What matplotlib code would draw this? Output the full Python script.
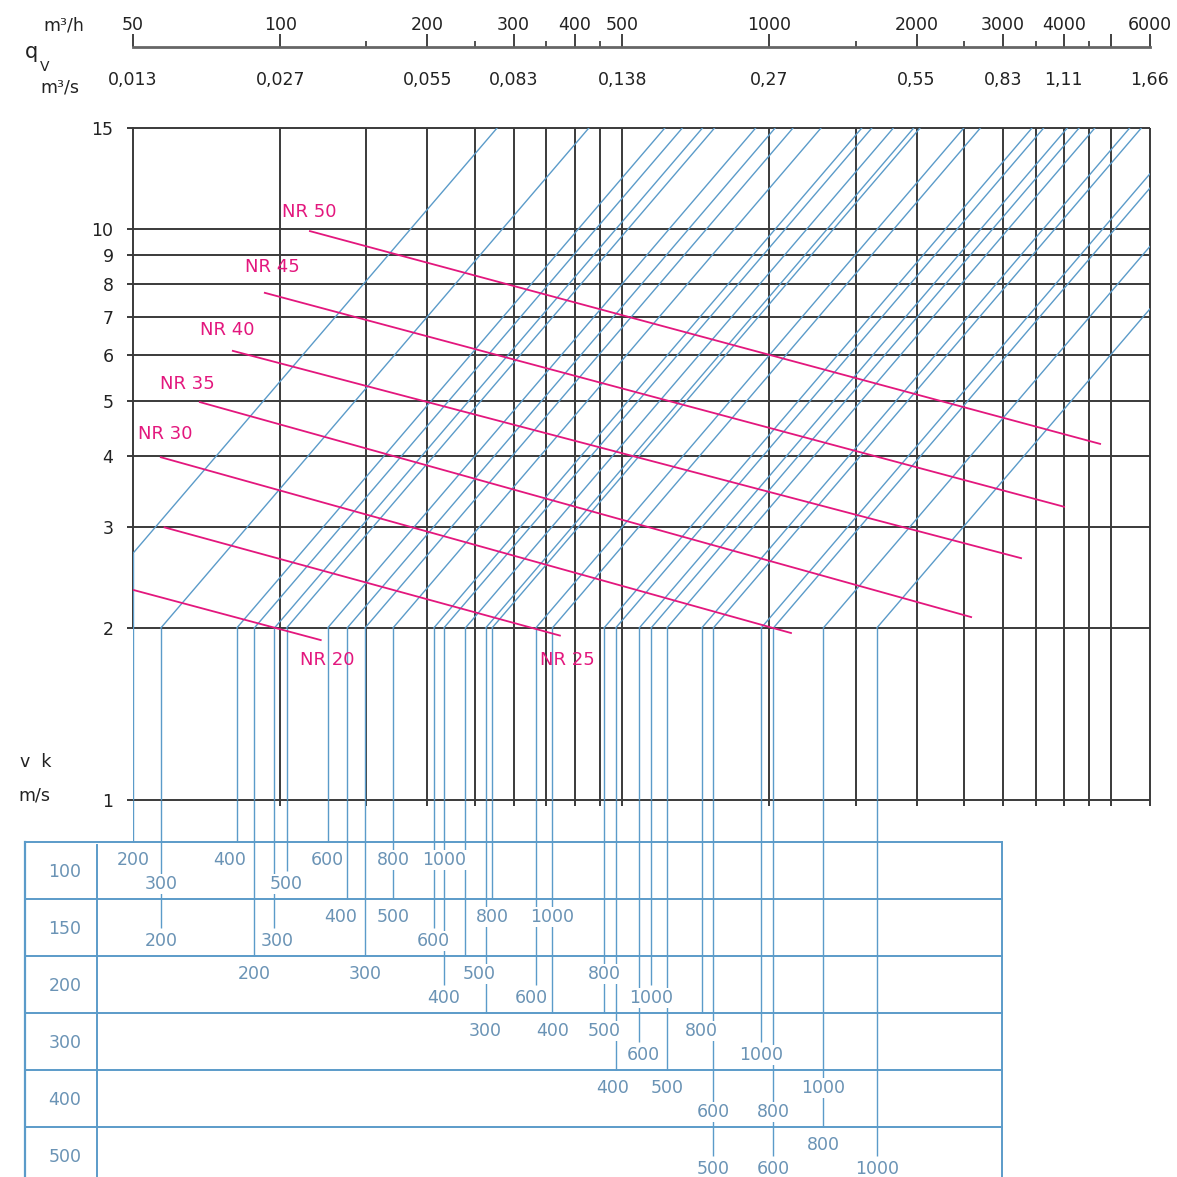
import matplotlib
matplotlib.use("Agg")
import matplotlib.pyplot as plt
import matplotlib.transforms as mtransforms
from matplotlib.ticker import FixedLocator, FixedFormatter, NullLocator

# ---- flow scale on top (m3/h and the same values in m3/s)
qv_major = [50, 100, 200, 300, 400, 500, 1000, 2000, 3000, 4000, 5000, 6000]
qv_major_labels = ["50", "100", "200", "300", "400", "500", "1000", "2000", "3000", "4000", "", "6000"]
qv_minor = [150, 250, 350, 450, 1500, 2500, 3500, 4500]
qs_at = [50, 100, 200, 300, 500, 1000, 2000, 3000, 4000, 6000]
qs_labels = ["0,013", "0,027", "0,055", "0,083", "0,138", "0,27", "0,55", "0,83", "1,11", "1,66"]

# ---- grid of the main chart
grid_q = [100, 150, 200, 250, 300, 350, 400, 450, 500, 1000, 1500, 2000,
          2500, 3000, 3500, 4000, 4500, 5000, 6000]
v_ticks = [1, 2, 3, 4, 5, 6, 7, 8, 9, 10, 15]

# ---- NR curves, start / end points (q in m3/h, v in m/s)
nr_names = ["NR 20", "NR 25", "NR 30", "NR 35", "NR 40", "NR 45", "NR 50"]
nr_q0 = [50.2, 58, 57, 68.5, 80, 93, 115]
nr_v0 = [2.33, 3.0, 3.98, 4.97, 6.11, 7.72, 9.9]
nr_q1 = [121, 373, 1107, 2585, 3270, 4004, 4744]
nr_v1 = [1.905, 1.94, 1.96, 2.09, 2.65, 3.26, 4.2]
nr_label_q = [110, 340, 51.2, 56.8, 68.5, 84.7, 101]
nr_label_v = [1.76, 1.76, 4.37, 5.34, 6.65, 8.56, 10.7]

# ---- table: size row, length, flow where the line meets v = 2 m/s, lower label level
sizes = [100, 150, 200, 300, 400, 500]
tbl_size = [100, 100, 100, 100, 100, 100, 100,
            150, 150, 150, 150, 150, 150, 150,
            200, 200, 200, 200, 200, 200, 200,
            300, 300, 300, 300, 300, 300,
            400, 400, 400, 400, 400,
            500, 500, 500, 500]
tbl_len = [200, 300, 400, 500, 600, 800, 1000,
           200, 300, 400, 500, 600, 800, 1000,
           200, 300, 400, 500, 600, 800, 1000,
           300, 400, 500, 600, 800, 1000,
           400, 500, 600, 800, 1000,
           500, 600, 800, 1000]
tbl_q = [37, 57, 81.5, 103, 125, 170, 216,
         57, 97.3, 137, 170, 206, 271, 360,
         88.5, 149, 216, 239, 333, 459, 573,
         263, 360, 459, 542, 727, 962,
         485, 617, 768, 1019, 1289,
         768, 1019, 1289, 1658]
tbl_low = [0, 1, 0, 1, 0, 0, 0,
           1, 1, 0, 0, 1, 0, 0,
           0, 0, 1, 0, 1, 0, 1,
           0, 0, 0, 1, 0, 1,
           0, 0, 1, 1, 0,
           1, 1, 0, 1]
# small sideways nudges of a few labels (points)
lbl_shift = {(100, 400): -5, (150, 400): -5, (150, 300): 2, (200, 500): 10,
             (200, 600): -3, (300, 600): 3, (400, 400): -2}

GRID = "#3a3a3a"
BLUE = "#5b9bc9"
TBLUE = "#6a93b5"
PINK = "#e3177d"
FS = 1177

plt.rcParams['font.family'] = ['DejaVu Sans']

fig = plt.figure(figsize=(FS / 100, FS / 100), dpi=100)


def fbox(x0, y0, x1, y1):
    return [x0 / FS, 1 - y1 / FS, (x1 - x0) / FS, (y1 - y0) / FS]


def fpt(x, y):
    return x / FS, 1 - y / FS


# ================= main chart
ax = fig.add_axes(fbox(133, 128, 1150, 800))
ax.set_xscale('log')
ax.set_yscale('log')
q_lo, q_hi = 50, 6000
v_lo, v_hi = 1, 15
ax.set_xlim(q_lo, q_hi)
ax.set_ylim(v_lo, v_hi)
ax.set_autoscale_on(False)
for s in ax.spines.values():
    s.set_visible(False)
ax.patch.set_visible(False)

for v in v_ticks:
    ax.plot([q_lo * 0.972, q_hi], [v, v], color=GRID, lw=1.4, clip_on=False,
            zorder=1, solid_capstyle='butt')
for q in grid_q:
    ax.plot([q, q], [v_lo * 0.976, v_hi], color=GRID, lw=1.4, clip_on=False,
            zorder=1, solid_capstyle='butt')
ax.plot([q_lo, q_lo], [2, v_hi], color=GRID, lw=1.4, zorder=1, clip_on=False)

duct_lines = sorted(set(tbl_q))
for q in duct_lines:
    # constant-area line: v proportional to q
    ax.plot([q, q * v_hi / 2.0], [2, v_hi], color=BLUE, lw=1.0, zorder=2)
    xq = max(q, q_lo)
    ax.plot([xq, xq], [2.0 * xq / q, v_lo], color=BLUE, lw=1.0, zorder=2,
            solid_capstyle='butt')

for i in range(len(nr_names)):
    ax.plot([nr_q0[i], nr_q1[i]], [nr_v0[i], nr_v1[i]], color=PINK, lw=1.3, zorder=3)
    ax.text(nr_label_q[i], nr_label_v[i], nr_names[i], color=PINK, fontsize=13,
            ha='left', va='center', zorder=5)

ax.xaxis.set_major_locator(NullLocator())
ax.xaxis.set_minor_locator(NullLocator())
ax.yaxis.set_major_locator(FixedLocator(v_ticks))
ax.yaxis.set_major_formatter(FixedFormatter([str(v) for v in v_ticks]))
ax.yaxis.set_minor_locator(NullLocator())
ax.tick_params(axis='y', length=0, pad=14, labelsize=12.5, labelcolor="#222222")

# ================= flow scale on top
axq = fig.add_axes(fbox(133, 33, 1150, 47))
axq.set_xscale('log')
axq.set_xlim(q_lo, q_hi)
axq.set_ylim(0, 1)
axq.patch.set_visible(False)
for k in ['top', 'left', 'right']:
    axq.spines[k].set_visible(False)
axq.spines['bottom'].set_linewidth(2.0)
axq.spines['bottom'].set_color("#666666")
axq.set_yticks([])
axq.xaxis.set_major_locator(FixedLocator(qv_major))
axq.xaxis.set_minor_locator(FixedLocator(qv_minor))
axq.tick_params(axis='x', which='major', direction='in', length=9.5, width=1.3,
                color="#333333", labelbottom=False)
axq.tick_params(axis='x', which='minor', direction='in', length=4.5, width=1.2,
                color="#333333", labelbottom=False)
tq = mtransforms.blended_transform_factory(axq.transData, fig.transFigure)
for q, lab in zip(qv_major, qv_major_labels):
    axq.text(q, 1 - 25 / FS, lab, transform=tq, ha='center', va='center',
             fontsize=12.5, color="#222222")
for q, lab in zip(qs_at, qs_labels):
    axq.text(q, 1 - 80 / FS, lab, transform=tq, ha='center', va='center',
             fontsize=12.5, color="#222222")

fig.text(*fpt(64, 25), "m³/h", ha='center', va='center', fontsize=12.5, color="#222222")
fig.text(*fpt(31, 52), "q", ha='center', va='center', fontsize=15, color="#222222")
fig.text(*fpt(45, 67), "V", ha='center', va='center', fontsize=10, color="#222222")
fig.text(*fpt(60, 87), "m³/s", ha='center', va='center', fontsize=12.5, color="#222222")
fig.text(*fpt(20, 762), "v  k", ha='left', va='center', fontsize=12.5, color="#222222")
fig.text(*fpt(18, 795), "m/s", ha='left', va='center', fontsize=12.5, color="#222222")

# ================= table below
gap_px, row_px = 42, 57
axt = fig.add_axes(fbox(133, 800, 1150, FS))
axt.set_xscale('log')
axt.set_xlim(q_lo, q_hi)
t_top = -gap_px / row_px
t_bot = (FS - 800 - gap_px) / row_px
axt.set_ylim(t_bot, t_top)
axt.set_autoscale_on(False)
axt.axis('off')

tb = mtransforms.blended_transform_factory(axt.transAxes, axt.transData)
xl, xi, xr = (25 - 133) / 1017, (97 - 133) / 1017, (1002 - 133) / 1017
for r in range(len(sizes)):
    axt.plot([xl, xr], [r, r], color=BLUE, lw=1.4, transform=tb, clip_on=False, zorder=1)
    axt.text((65 - 133) / 1017, r + 0.52, str(sizes[r]), transform=tb, ha='center',
             va='center', fontsize=12.5, color=TBLUE)
axt.plot([xl, xl], [0, t_bot], color=BLUE, lw=1.6, transform=tb, clip_on=False)
axt.plot([xi, xi], [0.06, t_bot], color=BLUE, lw=1.4, transform=tb, clip_on=False)
axt.plot([xr, xr], [0, t_bot], color=BLUE, lw=1.4, transform=tb, clip_on=False)

LOW_END, UP_Y, LOW_Y = 0.5, 0.31, 0.73
for q in duct_lines:
    ends = [sizes.index(s) + (LOW_END if lo else 0.0)
            for s, qq, lo in zip(tbl_size, tbl_q, tbl_low) if qq == q]
    xq = max(q, q_lo)
    axt.plot([xq, xq], [t_top, max(ends)], color=BLUE, lw=1.0, zorder=2,
             solid_capstyle='butt')

for s, L, q, lo in zip(tbl_size, tbl_len, tbl_q, tbl_low):
    xq = max(q, q_lo)
    y = sizes.index(s) + (LOW_Y if lo else UP_Y)
    tr = mtransforms.offset_copy(axt.transData, fig, x=lbl_shift.get((s, L), 0), y=0,
                                 units='points')
    axt.text(xq, y, str(L), transform=tr, ha='center', va='center', fontsize=12.5,
             color=TBLUE, zorder=4,
             bbox=dict(boxstyle='square,pad=0.06', fc='white', ec='none'))

fig.savefig("out.png", dpi=100, facecolor='white')
